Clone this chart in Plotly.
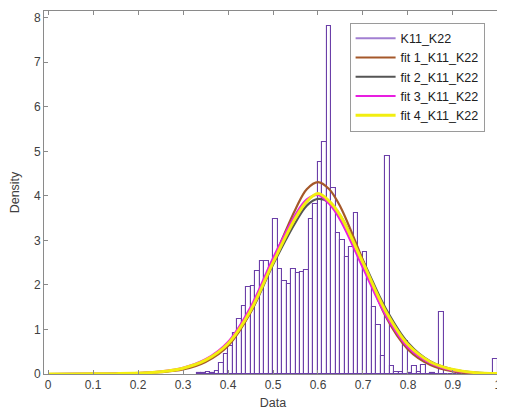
import plotly.graph_objects as go

# ---------------- data ----------------
bin_width = 0.01
bin_left = [round(0.33 + i * 0.01, 2) for i in range(67)]  # 0.33 ... 0.99
density = [
    0.02, 0.02, 0.04, 0.02, 0.07, 0.25, 0.45, 0.62, 0.91, 1.24,   # 0.33-0.42
    1.53, 1.95, 1.98, 2.32, 2.54, 2.53, 2.38, 3.47, 2.36, 2.09,   # 0.43-0.52
    2.02, 2.36, 2.26, 2.28, 2.34, 3.49, 3.82, 4.76, 5.21, 7.82,   # 0.53-0.62
    4.18, 3.16, 3.00, 2.62, 2.85, 3.61, 2.63, 2.75, 2.14, 1.50,   # 0.63-0.72
    1.10, 0.40, 4.89, 0.18, 0.05, 0.05, 0.74, 0.03, 0.18, 0.05,   # 0.73-0.82
    0.20, 0.00, 0.03, 0.00, 1.40, 0.00, 0.00, 0.00, 0.00, 0.00,   # 0.83-0.92
    0.00, 0.00, 0.00, 0.00, 0.00, 0.00, 0.33                      # 0.93-0.99
]

fit_x = [0, 0.05, 0.1, 0.15, 0.2, 0.25, 0.3, 0.35, 0.4, 0.45, 0.5, 0.55,
         0.575, 0.6, 0.625, 0.65, 0.7, 0.75, 0.8, 0.85, 0.9, 0.95, 1.0]
fit1 = [0, 0, 0.002, 0.006, 0.015, 0.04, 0.10, 0.27, 0.63, 1.38, 2.55, 3.70,
        4.15, 4.31, 4.15, 3.75, 2.55, 1.30, 0.55, 0.20, 0.06, 0.015, 0.004]
fit2 = [0, 0.001, 0.003, 0.008, 0.02, 0.05, 0.12, 0.30, 0.66, 1.38, 2.45, 3.40,
        3.78, 3.93, 3.85, 3.55, 2.55, 1.48, 0.70, 0.28, 0.10, 0.03, 0.01]
fit3 = [0, 0.001, 0.003, 0.009, 0.022, 0.055, 0.14, 0.33, 0.72, 1.50, 2.60, 3.58,
        3.92, 4.02, 3.82, 3.45, 2.38, 1.33, 0.60, 0.24, 0.08, 0.025, 0.008]
fit4 = [0, 0.001, 0.003, 0.008, 0.02, 0.05, 0.13, 0.31, 0.68, 1.42, 2.50, 3.50,
        3.87, 4.05, 3.88, 3.55, 2.50, 1.42, 0.66, 0.27, 0.10, 0.03, 0.01]

x_ticks = [0, 0.1, 0.2, 0.3, 0.4, 0.5, 0.6, 0.7, 0.8, 0.9, 1]
x_tick_text = ["0", "0.1", "0.2", "0.3", "0.4", "0.5", "0.6", "0.7", "0.8", "0.9", "1"]
y_ticks = [0, 1, 2, 3, 4, 5, 6, 7, 8]

series_name = "K11_K22"
fit_names = ["fit 1_K11_K22", "fit 2_K11_K22", "fit 3_K11_K22", "fit 4_K11_K22"]

# ---------------- figure ----------------
bar_edge = "#6B3FA8"
centers = [b + bin_width / 2 for b in bin_left]

fig = go.Figure()
fig.add_trace(go.Bar(
    x=centers, y=density, width=bin_width,
    marker=dict(color="white", line=dict(color=bar_edge, width=1.1)),
    showlegend=False, hoverinfo="skip",
))
# legend entry for histogram (drawn as a line like the reference)
fig.add_trace(go.Scatter(
    x=[None], y=[None], mode="lines", name=series_name,
    line=dict(color="#A27FD2", width=2), legendrank=1,
))

fit_colors = ["#A5582A", "#555555", "#E81EE0", "#F2EE10"]
fit_widths = [2.2, 2.2, 2.2, 3]
ranks = [2, 3, 4, 5]
# drawing order: gray, brown, magenta, yellow (legend order kept via legendrank)
draw_order = [1, 0, 2, 3]
fits = [fit1, fit2, fit3, fit4]
for i in draw_order:
    fig.add_trace(go.Scatter(
        x=fit_x, y=fits[i], mode="lines", name=fit_names[i], legendrank=ranks[i],
        line=dict(color=fit_colors[i], width=fit_widths[i], shape="spline", smoothing=1.0),
    ))

font_fam = "Liberation Sans, Arial"
axis_common = dict(
    showgrid=False, zeroline=False, showline=True, linecolor="#8a8a8a",
    linewidth=1, mirror="ticks", ticks="inside", ticklen=4, tickcolor="#8a8a8a",
    tickfont=dict(family=font_fam, size=12, color="#404040"), automargin=False,
)

# page body has an 8px margin: figure is sized/offset so the picture lands like the reference
fig.update_layout(
    width=497, height=411,
    margin=dict(l=36, r=3, t=3, b=45),
    paper_bgcolor="white", plot_bgcolor="white",
    bargap=0,
    xaxis=dict(range=[-0.009, 1.009], tickvals=x_ticks, ticktext=x_tick_text,
               title=dict(text="Data", standoff=6,
                          font=dict(family=font_fam, size=12.5, color="#404040")),
               **axis_common),
    yaxis=dict(range=[0, 8.15], tickvals=y_ticks,
               title=dict(text="Density", standoff=11,
                          font=dict(family=font_fam, size=12.5, color="#404040")),
               **axis_common),
    legend=dict(x=0.962, y=0.968, xanchor="right", yanchor="top",
                bgcolor="white", bordercolor="#9a9a9a", borderwidth=1,
                font=dict(family=font_fam, size=12.5, color="#202020"),
                tracegroupgap=0, itemwidth=40),
    showlegend=True,
)

fig.write_html("out.html")
